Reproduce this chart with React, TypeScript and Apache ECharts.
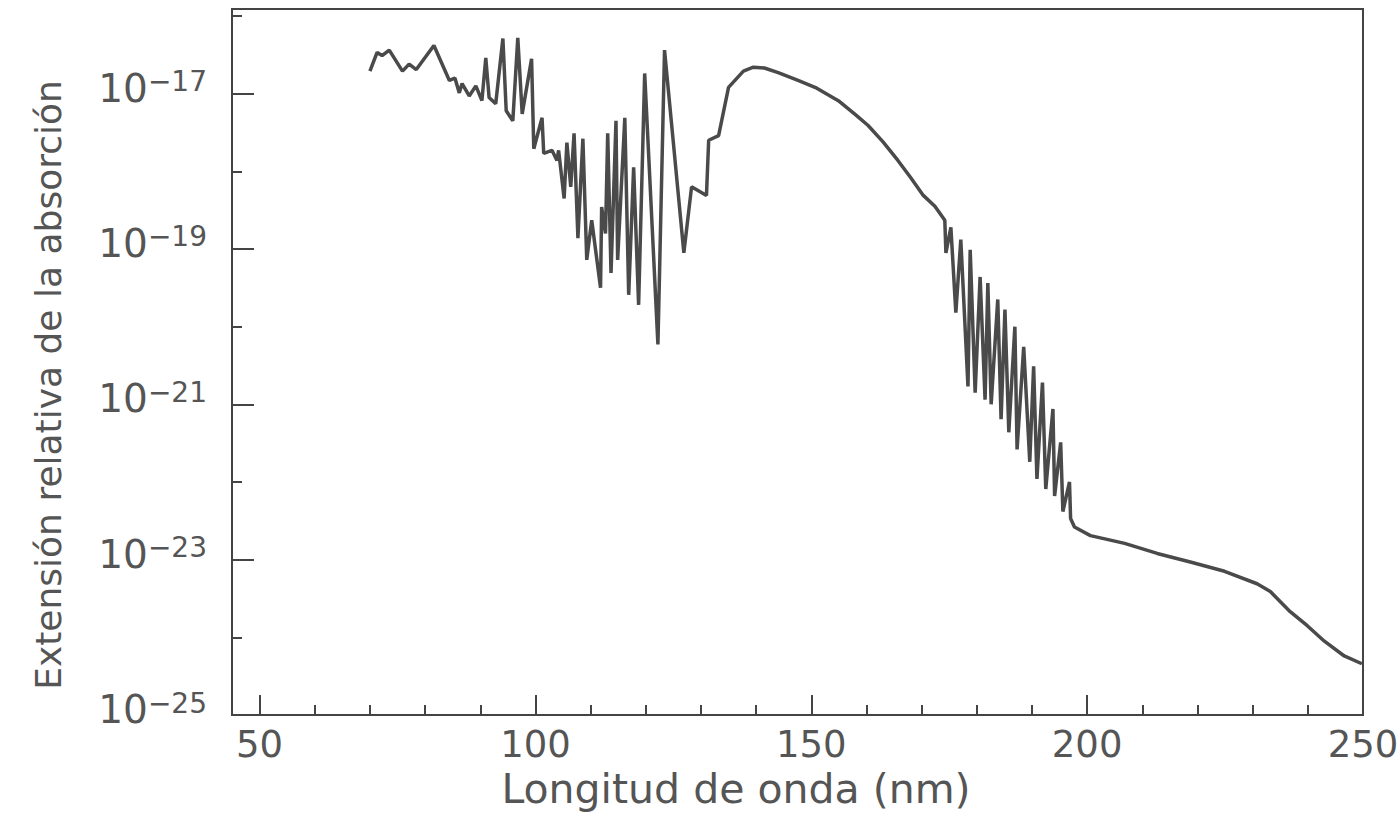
import { useEffect, useRef } from "react";
import * as echarts from "echarts";

// Wavelength (nm) and absorption exponent (log10 of relative absorption)
const wavelength = [
  70.0, 71.3, 72.2, 73.5, 75.9, 77.1, 78.4, 81.6, 84.4, 85.4, 86.2, 86.7, 88.0, 89.2, 90.3, 91.0, 91.6, 92.8,
  94.1, 94.7, 95.9, 96.8, 97.6, 99.3, 99.7, 101.2, 101.5, 103.0, 103.9, 104.2, 105.2, 105.7, 106.4, 107.0,
  107.7, 108.6, 109.3, 110.2, 111.8, 112.0, 112.7, 113.1, 113.7, 114.6, 114.9, 116.2, 116.9, 117.8, 118.7,
  119.8, 122.2, 123.4, 126.9, 128.3, 131.0, 131.4, 133.2, 135.0, 137.7, 139.5, 141.5, 144.0, 147.6, 151.0,
  154.9, 158.0, 160.3, 163.0, 165.7, 168.0, 170.3, 172.4, 174.2, 174.4, 175.3, 176.2, 177.1, 178.4, 178.8,
  179.7, 180.6, 181.5, 182.0, 182.6, 183.8, 184.4, 185.1, 185.8, 186.9, 187.3, 188.5, 189.6, 190.3, 190.9,
  191.9, 192.5, 193.8, 194.1, 195.2, 195.6, 196.8, 197.0, 197.7, 200.6, 206.8, 212.7, 218.7, 224.9, 230.8,
  233.2, 236.8, 239.9, 243.0, 246.6, 249.8,
];
const logAbsorption = [
  -16.71, -16.47, -16.51, -16.44, -16.71, -16.62, -16.69, -16.38, -16.83, -16.8, -16.99, -16.87, -17.03, -16.9,
  -17.09, -16.54, -17.05, -17.13, -16.29, -17.22, -17.35, -16.28, -17.26, -16.55, -17.71, -17.31, -17.77, -17.73,
  -17.86, -17.73, -18.35, -17.63, -18.2, -17.51, -18.86, -17.58, -19.14, -18.63, -19.5, -18.46, -18.8, -17.51,
  -19.31, -17.35, -19.14, -17.31, -19.59, -17.95, -19.72, -16.74, -20.23, -16.44, -19.05, -18.2, -18.31, -17.6,
  -17.54, -16.92, -16.71, -16.66, -16.67, -16.73, -16.83, -16.93, -17.09, -17.27, -17.41, -17.62, -17.86, -18.08,
  -18.31, -18.45, -18.63, -19.05, -18.72, -19.82, -18.88, -20.77, -19.01, -20.85, -19.36, -20.94, -19.44, -21.0,
  -19.65, -21.19, -19.78, -21.36, -20.0, -21.58, -20.26, -21.74, -20.51, -21.96, -20.72, -22.09, -21.06, -22.18,
  -21.49, -22.38, -22.0, -22.47, -22.58, -22.69, -22.79, -22.92, -23.03, -23.15, -23.31, -23.41, -23.67, -23.85,
  -24.05, -24.24, -24.34,
];

const xMajorTicks = [50, 100, 150, 200, 250];
const xMinorTicks = [60, 70, 80, 90, 110, 120, 130, 140, 160, 170, 180, 190, 210, 220, 230, 240];
const yLabelTicks = [1e-25, 1e-23, 1e-21, 1e-19, 1e-17];
const yMinorTicks = [1e-24, 1e-22, 1e-20, 1e-18, 1e-16];
const xTitle = "Longitud de onda (nm)";
const yTitle = "Extensión relativa de la absorción";

const FONT = "'DejaVu Sans', sans-serif";
const TEXT = "#555";
const AXIS = "#444";

export default function App() {
  const ref = useRef<HTMLDivElement>(null);
  useEffect(() => {
    const chart = echarts.init(ref.current!, null, { renderer: "svg" });
    const data = wavelength.map((x, i) => [x, Math.pow(10, logAbsorption[i])]);
    chart.setOption({
      animation: false,
      backgroundColor: "#fff",
      grid: {
        left: 232,
        right: 36,
        top: 9,
        bottom: 115,
        containLabel: false,
        outerBoundsMode: "none",
        show: true,
        borderColor: AXIS,
        borderWidth: 2,
        backgroundColor: "transparent",
      },
      graphic: [
        {
          type: "text",
          x: 736,
          y: 789,
          style: {
            text: xTitle,
            fontFamily: FONT,
            fontSize: 41,
            lineHeight: 40,
            fill: TEXT,
            align: "center",
            verticalAlign: "middle",
          },
        },
        {
          type: "text",
          x: 48,
          y: 385,
          rotation: Math.PI / 2,
          style: { text: yTitle, fontFamily: FONT, fontSize: 36, fill: TEXT, align: "center", verticalAlign: "middle" },
        },
      ],
      xAxis: [
        {
          type: "value",
          min: 45,
          max: 250,
          position: "bottom",
          axisLine: { show: true, onZero: false, lineStyle: { color: AXIS, width: 2 } },
          axisTick: { show: true, inside: true, length: 20, customValues: xMajorTicks, lineStyle: { color: AXIS, width: 2 } },
          axisLabel: {
            customValues: xMajorTicks,
            margin: 14,
            lineHeight: 30,
            fontFamily: FONT,
            fontSize: 37,
            color: TEXT,
          },
          splitLine: { show: false },
        },
        {
          type: "value",
          min: 45,
          max: 250,
          position: "bottom",
          axisLine: { show: false, onZero: false },
          axisTick: { show: true, inside: true, length: 10, customValues: xMinorTicks, lineStyle: { color: AXIS, width: 2 } },
          axisLabel: { show: false },
          splitLine: { show: false },
        },
      ],
      yAxis: [
        {
          type: "log",
          logBase: 10,
          min: 1e-25,
          max: 1.23e-16,
          interval: 2,
          position: "left",
          axisLine: { show: true, onZero: false, lineStyle: { color: AXIS, width: 2 } },
          axisTick: { show: true, inside: true, length: 22, customValues: yLabelTicks, lineStyle: { color: AXIS, width: 2 } },
          axisLabel: {
            customValues: yLabelTicks,
            margin: 25,
            padding: [0, 0, 12, 0],
            showMinLabel: true,
            formatter: (v: number) => {
              const e = Math.round(Math.log10(v));
              return `{b|10}{s|−${-e}}`;
            },
            rich: {
              b: { fontFamily: FONT, fontSize: 39, color: TEXT, lineHeight: 40, verticalAlign: "bottom" },
              s: { fontFamily: FONT, fontSize: 28, color: TEXT, lineHeight: 28, verticalAlign: "top" },
            },
          },
          splitLine: { show: false },
        },
        {
          type: "log",
          logBase: 10,
          min: 1e-25,
          max: 1.23e-16,
          interval: 1,
          position: "left",
          axisLine: { show: false, onZero: false },
          axisTick: { show: true, inside: true, length: 10, customValues: yMinorTicks, lineStyle: { color: AXIS, width: 2 } },
          axisLabel: { show: false },
          splitLine: { show: false },
        },
      ],
      series: [
        {
          type: "line",
          xAxisIndex: 0,
          yAxisIndex: 0,
          data,
          showSymbol: false,
          symbol: "none",
          lineStyle: { color: "#4a4a4a", width: 3.5 },
        },
      ],
    });
    return () => chart.dispose();
  }, []);
  return (
    <div
      ref={ref}
      style={{ position: "fixed", left: 0, top: 0, width: 1399, height: 830, background: "#fff" }}
    />
  );
}
